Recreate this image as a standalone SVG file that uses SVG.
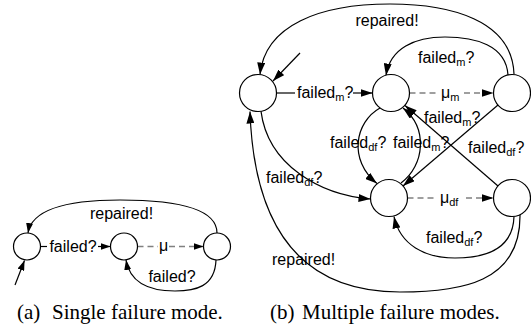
<svg xmlns="http://www.w3.org/2000/svg" width="531" height="336" viewBox="0 0 531 336">
<defs>
<style>
.n{fill:#fff;stroke:#000;stroke-width:1.2}
.e{fill:none;stroke:#000;stroke-width:1.2}
.d{fill:none;stroke:#808080;stroke-width:1.5;stroke-dasharray:6,4}
.l{font-family:"Liberation Sans",Arial,sans-serif;font-size:16px;fill:#000}
.c{font-family:"Liberation Serif","Times New Roman",serif;font-size:21px;fill:#000}
</style>
<marker id="ah" viewBox="0 0 12 8" refX="12" refY="4" markerWidth="12" markerHeight="8" orient="auto" markerUnits="userSpaceOnUse"><path d="M0,0 L12,4 L0,8 z" fill="#000"/></marker>
<marker id="as" viewBox="0 0 10 7" refX="10" refY="3.5" markerWidth="10" markerHeight="7" orient="auto" markerUnits="userSpaceOnUse"><path d="M0,0 L10,3.5 L0,7 z" fill="#000"/></marker>
</defs>
<g id="connectors">
<!-- (a) -->
<path class="e" d="M15,285 L24.5,260.5" marker-end="url(#as)"/>
<path class="e" d="M217,233 C217,205 165,200 120,200 C70,200 32,208 28,233" marker-end="url(#as)"/>
<path class="e" d="M40.5,246.5 L47,246.5"/>
<path class="e" d="M98,246.5 L110.5,246.5" marker-end="url(#as)"/>
<path class="d" d="M137.5,246.5 L158,246.5"/>
<path class="d" d="M169,246.5 L203.5,246.5" marker-end="url(#as)"/>
<path class="e" d="M216,260 C215,287 195,291 175,291 C150,291 130,283 126,260" marker-end="url(#as)"/>
<!-- (b) -->
<path class="e" d="M300,53 L273,81" marker-end="url(#ah)"/>
<path class="e" d="M514,74 C512,20 450,4 390,4 C320,4 265,25 260,74.5" marker-end="url(#ah)"/>
<path class="e" d="M508,75 C506,45 475,37 445,37 C415,37 390,48 386,75.5" marker-end="url(#ah)"/>
<path class="e" d="M276.5,93 L295,93"/>
<path class="e" d="M353,93 L372.5,93" marker-end="url(#ah)"/>
<path class="d" d="M409.5,93 L437,93"/>
<path class="d" d="M464,93 L493.5,93" marker-end="url(#ah)"/>
<path class="d" d="M407.5,198 L437,198"/>
<path class="d" d="M466,198 L493.5,198" marker-end="url(#ah)"/>
<path class="e" d="M261,111.3 C268,165 320,195 370.5,199" marker-end="url(#ah)"/>
<path class="e" d="M520,214.5 C521,283 460,292 400,292 C330,292 255,260 250,111.5" marker-end="url(#ah)"/>
<path class="e" d="M514,216.5 C513,250 485,258 455,258 C425,258 400,245 394,216.5" marker-end="url(#ah)"/>
<path class="e" d="M380,108 C355,122 348,160 377,183.5" marker-end="url(#ah)"/>
<path class="e" d="M401,183 C425,165 428,128 403,108" marker-end="url(#ah)"/>
<path class="e" d="M498,186 L405,105.5" marker-end="url(#ah)"/>
<path class="e" d="M498,105 L403,186" marker-end="url(#ah)"/>
</g>
<g id="labels">
<text class="l" x="121.5" y="219" text-anchor="middle">repaired!</text>
<text class="l" x="73" y="252" text-anchor="middle">failed?</text>
<text class="l" x="163.5" y="251" text-anchor="middle">μ</text>
<text class="l" x="172" y="282" text-anchor="middle">failed?</text>
<text class="l" x="387" y="26" text-anchor="middle">repaired!</text>
<text class="l" x="418" y="63">failed<tspan font-size="11" dy="3">m</tspan><tspan dy="-3">?</tspan></text>
<text class="l" x="297" y="98">failed<tspan font-size="11" dy="3">m</tspan><tspan dy="-3">?</tspan></text>
<text class="l" x="441" y="98">μ<tspan font-size="11" dy="3">m</tspan></text>
<text class="l" x="424" y="123">failed<tspan font-size="11" dy="3">m</tspan><tspan dy="-3">?</tspan></text>
<text class="l" x="330" y="148">failed<tspan font-size="11" dy="3">df</tspan><tspan dy="-3">?</tspan></text>
<text class="l" x="393" y="148">failed<tspan font-size="11" dy="3">m</tspan><tspan dy="-3">?</tspan></text>
<text class="l" x="468" y="153">failed<tspan font-size="11" dy="3">df</tspan><tspan dy="-3">?</tspan></text>
<text class="l" x="266" y="183">failed<tspan font-size="11" dy="3">df</tspan><tspan dy="-3">?</tspan></text>
<text class="l" x="440" y="203">μ<tspan font-size="11" dy="3">df</tspan></text>
<text class="l" x="426" y="243">failed<tspan font-size="11" dy="3">df</tspan><tspan dy="-3">?</tspan></text>
<text class="l" x="272" y="265">repaired!</text>
<text class="c" x="17" y="319">(a)</text>
<text class="c" x="52" y="319">Single failure mode.</text>
<text class="c" x="270" y="319">(b)</text>
<text class="c" x="302" y="319">Multiple failure modes.</text>
</g>
<g id="nodes">
<circle id="a0" class="n" cx="27" cy="246.5" r="13.5"/>
<circle id="a1" class="n" cx="124" cy="246.5" r="13.5"/>
<circle id="a2" class="n" cx="217" cy="246.5" r="13.5"/>
<circle id="b0" class="n" cx="258" cy="93" r="18.5"/>
<circle id="b1" class="n" cx="391" cy="93" r="18.5"/>
<circle id="b2" class="n" cx="512" cy="93" r="18.5"/>
<circle id="b3" class="n" cx="389" cy="198" r="18.5"/>
<circle id="b4" class="n" cx="512" cy="198" r="18.5"/>
</g>
</svg>
